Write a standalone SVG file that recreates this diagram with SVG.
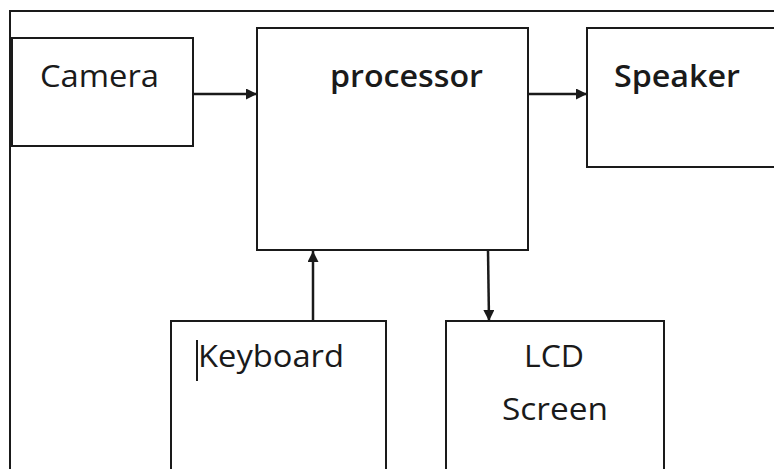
<svg xmlns="http://www.w3.org/2000/svg" width="774" height="469" viewBox="0 0 774 469">
<style>
.box{fill:#fff;stroke:#1a1a1a;stroke-width:2}
.t{font-family:"Open Sans","Noto Sans",sans-serif;font-size:31px;fill:#1a1a1a}
.b{font-weight:600}
.c{stroke:#1a1a1a;stroke-width:2.5;fill:none}
</style>
<defs>
<marker id="ah" viewBox="0 0 10 10" refX="10" refY="5" markerWidth="13" markerHeight="11" markerUnits="userSpaceOnUse" orient="auto">
<path d="M0,0 L10,5 L0,10 z" fill="#1a1a1a"/>
</marker>
</defs>
<rect width="774" height="469" fill="#fff"/>
<path d="M10,469 V11 H774" fill="none" stroke="#1a1a1a" stroke-width="2"/>
<g id="camera"><rect class="box" x="12" y="38" width="181" height="108"/><text class="t" x="40" y="87" textLength="119" lengthAdjust="spacingAndGlyphs">Camera</text></g>
<g id="processor"><rect class="box" x="257" y="28" width="271" height="222"/><text class="t b" x="330" y="87" textLength="153" lengthAdjust="spacingAndGlyphs">processor</text></g>
<g id="speaker"><rect class="box" x="587" y="28" width="200" height="139"/><text class="t b" x="614" y="87" textLength="126" lengthAdjust="spacingAndGlyphs">Speaker</text></g>
<g id="keyboard"><rect class="box" x="171" y="321" width="215" height="160"/><line x1="197" y1="340" x2="197" y2="381" stroke="#1a1a1a" stroke-width="2"/><text class="t" x="198" y="367" textLength="146" lengthAdjust="spacingAndGlyphs">Keyboard</text></g>
<g id="lcd"><rect class="box" x="446" y="321" width="218" height="160"/><text class="t" x="524" y="367" textLength="60" lengthAdjust="spacingAndGlyphs">LCD</text><text class="t" x="502" y="420" textLength="106" lengthAdjust="spacingAndGlyphs">Screen</text></g>
<g id="connectors">
<line class="c" x1="193" y1="94" x2="257" y2="94" marker-end="url(#ah)"/>
<line class="c" x1="528" y1="94" x2="587" y2="94" marker-end="url(#ah)"/>
<line class="c" x1="313" y1="321" x2="313" y2="251" marker-end="url(#ah)"/>
<line class="c" x1="488" y1="250" x2="489" y2="321" marker-end="url(#ah)"/>
</g>
</svg>
